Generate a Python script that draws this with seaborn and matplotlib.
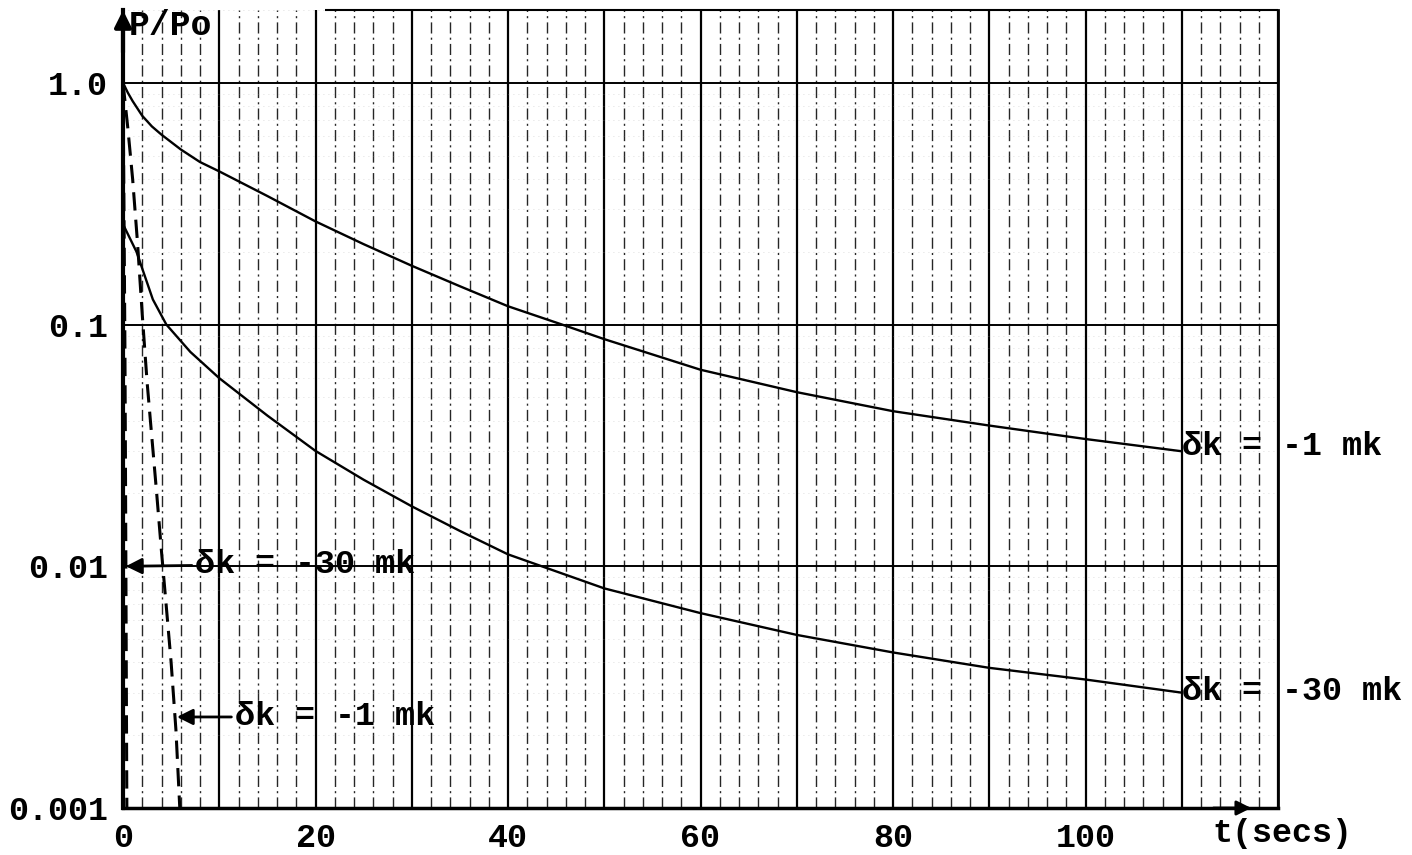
import numpy as np
import pandas as pd
import matplotlib
matplotlib.use("Agg")
import matplotlib.pyplot as plt
import seaborn as sns
from matplotlib.ticker import MultipleLocator, LogLocator, FixedLocator, NullFormatter

# values (P/Po against t in seconds)
t_slow = [0, 0.5, 1, 2, 3, 4, 6, 8, 10, 15, 20, 25, 30, 35, 40, 45.6, 50, 60, 70, 80, 90, 100, 110]
p_slow = [1.0, 0.91, 0.84, 0.73, 0.66, 0.61, 0.53, 0.47, 0.43, 0.34, 0.267, 0.215, 0.175, 0.144,
          0.119, 0.1, 0.087, 0.065, 0.0525, 0.0438, 0.0382, 0.0336, 0.0299]

t_fast = [0, 1.4, 3.1, 4.5, 7, 10, 15, 20, 25, 30, 35, 40, 50, 60, 70, 80, 90, 100, 110]
p_fast = [0.26, 0.2, 0.127, 0.1, 0.077, 0.060, 0.042, 0.030, 0.0228, 0.0177, 0.014, 0.0112,
          0.0081, 0.0064, 0.0052, 0.0044, 0.0038, 0.0034, 0.0030]

t_dash1 = [0, 0.5, 1.0, 1.5, 2.0, 2.5, 3.0, 3.5, 4.0, 4.5, 5.0, 5.5, 5.9]
p_dash1 = [1.0, 0.65, 0.40, 0.22, 0.11, 0.058, 0.034, 0.020, 0.0115, 0.0068, 0.0040, 0.0021, 0.001]

t_dash30 = [0, 0.1, 0.2, 0.25, 0.3, 0.35, 0.4]
p_dash30 = [1.0, 0.3, 0.08, 0.03, 0.01, 0.003, 0.001]

ytick_vals = [0.001, 0.01, 0.1, 1.0]
ytick_labels = ["0.001", "0.01", "0.1", "1.0"]
xtick_vals = [0, 20, 40, 60, 80, 100]

sns.set_theme(style="white")
mono = ["Liberation Mono", "DejaVu Sans Mono"]
plt.rcParams["font.family"] = mono
plt.rcParams["font.weight"] = "bold"
plt.rcParams["text.color"] = "black"

df_slow = pd.DataFrame({"t": t_slow, "p": p_slow})
df_fast = pd.DataFrame({"t": t_fast, "p": p_fast})
df_d1 = pd.DataFrame({"t": t_dash1, "p": p_dash1})
df_d30 = pd.DataFrame({"t": t_dash30, "p": p_dash30})

fig = plt.figure(figsize=(14.12, 8.55), dpi=100)
ax = fig.add_axes([123 / 1412, 1 - 808 / 855, (1278 - 123) / 1412, (808 - 10) / 855])

ax.set_yscale("log")
ax.set_xlim(0, 120)
ax.set_ylim(0.001, 2.0)

# graph-paper grid
ax.xaxis.set_major_locator(MultipleLocator(10))
ax.xaxis.set_minor_locator(MultipleLocator(2))
ax.yaxis.set_major_locator(FixedLocator(ytick_vals))
ax.yaxis.set_minor_locator(LogLocator(base=10, subs=range(2, 10)))
ax.yaxis.set_minor_formatter(NullFormatter())
ax.grid(which="major", axis="x", color="black", lw=1.6)
ax.grid(which="minor", axis="x", color="0.15", lw=1.0, linestyle=(0, (8, 3, 1.5, 3)))
ax.grid(which="major", axis="y", color="black", lw=1.4)
ax.grid(which="minor", axis="y", color="0.65", lw=0.6, linestyle=(0, (1, 5)), alpha=0.5)

xlabels = [str(v) if v in xtick_vals else "" for v in range(0, 130, 10)]
ax.set_xticks(range(0, 130, 10))
ax.set_xticklabels(xlabels)
ax.set_yticks(ytick_vals)
ax.set_yticklabels(ytick_labels)
ax.tick_params(axis="both", which="major", labelsize=24, length=6, width=1.5,
               direction="out", color="black", labelcolor="black", pad=5)
ax.tick_params(axis="both", which="minor", length=0)
ax.set_axisbelow(True)

# curves
sns.lineplot(data=df_slow, x="t", y="p", ax=ax, color="black", lw=1.7, legend=False)
sns.lineplot(data=df_fast, x="t", y="p", ax=ax, color="black", lw=1.7, legend=False)
sns.lineplot(data=df_d1, x="t", y="p", ax=ax, color="black", lw=2.2, legend=False,
             linestyle=(0, (6, 3)))
sns.lineplot(data=df_d30, x="t", y="p", ax=ax, color="black", lw=2.2, legend=False,
             linestyle=(0, (6, 3)))
ax.set_xlabel("")
ax.set_ylabel("")

# frame
ax.spines["top"].set_visible(False)
ax.spines["left"].set_linewidth(3)
ax.spines["bottom"].set_linewidth(2.5)
ax.spines["right"].set_linewidth(2)
for s in ["left", "bottom", "right"]:
    ax.spines[s].set_color("black")
ax.hlines(2.0, 21, 120, color="black", lw=1.5, clip_on=False)

# axis arrows
ax.annotate("", xy=(0, 2.05), xytext=(0, 1.3),
            arrowprops=dict(arrowstyle="-|>", color="black", lw=3, mutation_scale=25),
            annotation_clip=False)
ax.annotate("", xy=(117.5, 0.001), xytext=(113, 0.001),
            arrowprops=dict(arrowstyle="-|>", color="black", lw=2, mutation_scale=22),
            annotation_clip=False)

# axis labels
ax.text(0.6, 1.72, "P/Po", fontsize=25, family=mono, ha="left", va="center")
ax.text(120.5, -0.013, "t(secs)", fontsize=24, family=mono, ha="center", va="top",
        transform=ax.get_xaxis_transform())

# curve labels
ax.text(110, 0.0313, "δk = -1 mk", fontsize=24, family=mono, ha="left", va="center",
        clip_on=False)
ax.text(110, 0.00304, "δk = -30 mk", fontsize=24, family=mono, ha="left", va="center",
        clip_on=False)
ax.annotate("δk = -30 mk", xy=(0.3, 0.01), xytext=(7.5, 0.0102), fontsize=24,
            family=mono, ha="left", va="center",
            arrowprops=dict(arrowstyle="-|>", color="black", lw=2, mutation_scale=24,
                            shrinkA=0, shrinkB=0))
ax.annotate("δk = -1 mk", xy=(5.6, 0.00238), xytext=(11.6, 0.00238), fontsize=24,
            family=mono, ha="left", va="center",
            arrowprops=dict(arrowstyle="-|>", color="black", lw=2, mutation_scale=24,
                            shrinkA=0, shrinkB=0))

fig.savefig("out.png", dpi=100, facecolor="white")
